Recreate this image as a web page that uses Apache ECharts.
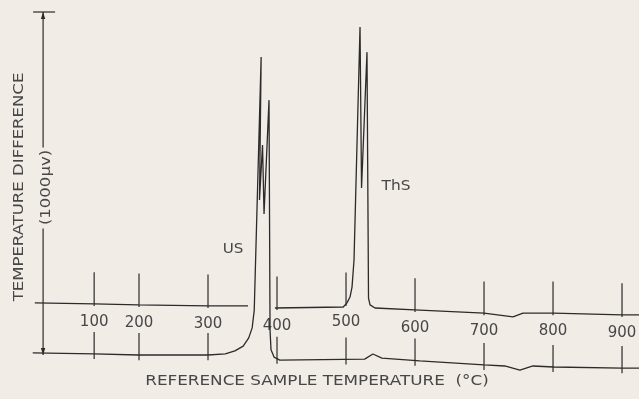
<!DOCTYPE html>
<html>
<head>
<meta charset="utf-8">
<script src="https://cdn.jsdelivr.net/npm/echarts@6/dist/echarts.min.js"></script>
<style>
  html, body { margin: 0; padding: 0; background: #f2ece7; }
  #chart { width: 639px; height: 399px; }
</style>
</head>
<body>
<div id="chart"></div>
<script>
// DTA 曲线：x = 参比样品温度 (°C)，y = 温差 (μV)
var usCurve = [
  [46, 6], [135, 3], [199, 0], [300, 0], [325, 3], [339, 12], [351, 26], [359, 50],
  [364, 79], [367, 131], [377, 869], [374.6, 452], [379, 612], [381.2, 411],
  [388.4, 743], [389.9, 73], [391.3, 15], [395.7, -6], [404, -15], [527, -12],
  [539, 3], [552, -9], [607, -17], [700, -29], [730, -32], [752, -44], [771, -32],
  [801, -35], [900, -38], [925, -38]
];
var thsCurve = [
  [49, 152], [135, 149], [199, 146], [300, 143], [358, 143], [378, '-'], [397, 137],
  [496, 140], [501.4, 152], [505.8, 169], [508.7, 198], [511.6, 277], [520.3, 956],
  [522.5, 487], [530.4, 883], [532.6, 166], [534.8, 146], [542, 137], [607, 131],
  [700, 122], [742, 111], [756.5, 122], [801, 122], [900, 117], [925, 117]
];
// 刻度：原图 100 的位置偏右（非线性）
var tickAt = [135, 200, 300, 400, 500, 600, 700, 800, 900];
var tickLabels = ['100', '200', '300', '400', '500', '600', '700', '800', '900'];
// 纵向标尺 1000 μV
var scaleBar = [[61, 0, 1000]];

var lineColor = '#2b2b2b';
var textColor = '#474747';
var font = 'DejaVu Sans';

// 在曲线上线性插值
function interp(data, t) {
  for (var i = 0; i < data.length - 1; i++) {
    var a = data[i], b = data[i + 1];
    if (typeof a[1] !== 'number' || typeof b[1] !== 'number') continue;
    var lo = Math.min(a[0], b[0]), hi = Math.max(a[0], b[0]);
    if (t >= lo && t <= hi && hi > lo) {
      return a[1] + (b[1] - a[1]) * (t - a[0]) / (b[0] - a[0]);
    }
  }
  return 0;
}

function seg(p1, p2) {
  return {
    type: 'line',
    shape: { x1: p1[0], y1: p1[1], x2: p2[0], y2: p2[1] },
    style: { stroke: lineColor, lineWidth: 1.2 }
  };
}

var chart = echarts.init(document.getElementById('chart'));
chart.setOption({
  backgroundColor: '#f2ece7',
  animation: false,
  grid: { left: 1, right: 0, top: 12, bottom: 9.7 },
  xAxis: { type: 'value', min: 0, max: 924.6, show: false },
  yAxis: { type: 'value', min: -100, max: 1000, show: false },
  graphic: [
    {
      type: 'text', x: 19, y: 187, rotation: Math.PI / 2, scaleX: 1.18,
      style: { text: 'TEMPERATURE DIFFERENCE', fontSize: 14, fontFamily: font, fill: textColor,
               align: 'center', verticalAlign: 'middle' }
    },
    {
      type: 'text', x: 317, y: 381, scaleX: 1.2,
      style: { text: 'REFERENCE SAMPLE TEMPERATURE  (°C)', fontSize: 14, fontFamily: font, fill: textColor,
               align: 'center', verticalAlign: 'middle' }
    },
    {
      type: 'text', x: 233, y: 249, scaleX: 1.08,
      style: { text: 'US', fontSize: 14, fontFamily: font, fill: textColor,
               align: 'center', verticalAlign: 'middle' }
    },
    {
      type: 'text', x: 396, y: 186, scaleX: 1.1,
      style: { text: 'ThS', fontSize: 14, fontFamily: font, fill: textColor,
               align: 'center', verticalAlign: 'middle' }
    }
  ],
  series: [
    {
      name: 'US', type: 'line', data: usCurve, showSymbol: false, clip: false,
      lineStyle: { color: lineColor, width: 1.3 }
    },
    {
      name: 'ThS', type: 'line', data: thsCurve, showSymbol: false, clip: false,
      connectNulls: false,
      lineStyle: { color: lineColor, width: 1.3 }
    },
    {
      // 温度刻度：上下两段竖线 + 中间数字
      type: 'custom', clip: false,
      data: tickAt.map(function (t, i) { return [t, i]; }),
      renderItem: function (params, api) {
        var t = api.value(0);
        var vu = interp(thsCurve, t), vl = interp(usCurve, t);
        return {
          type: 'group',
          children: [
            seg(api.coord([t, vu + 92]), api.coord([t, vu - 6])),
            seg(api.coord([t, vl + 64]), api.coord([t, vl - 15])),
            {
              type: 'text',
              x: api.coord([t, 0])[0], y: api.coord([t, vu - 52])[1],
              style: { text: tickLabels[api.value(1)], fontSize: 15, fontFamily: font, fill: textColor,
                       align: 'center', verticalAlign: 'middle' }
            }
          ]
        };
      }
    },
    {
      // 纵向双箭头标尺
      type: 'custom', clip: false,
      data: scaleBar,
      renderItem: function (params, api) {
        var top = api.coord([api.value(0), api.value(2)]);
        var bot = api.coord([api.value(0), api.value(1)]);
        var x = top[0], midY = (top[1] + bot[1]) / 2 + 4;
        return {
          type: 'group',
          children: [
            seg([x - 10, top[1]], [x + 12, top[1]]),
            seg([x, top[1]], [x, midY - 40]),
            seg([x, midY + 41], [x, bot[1]]),
            { type: 'polygon', shape: { points: [[x, top[1]], [x - 2.2, top[1] + 7], [x + 2.2, top[1] + 7]] },
              style: { fill: lineColor } },
            { type: 'polygon', shape: { points: [[x, bot[1]], [x - 2.2, bot[1] - 7], [x + 2.2, bot[1] - 7]] },
              style: { fill: lineColor } },
            {
              type: 'text', x: x + 3, y: midY, rotation: Math.PI / 2, scaleX: 1.18,
              style: { text: '(1000μv)', fontSize: 14, fontFamily: font, fill: textColor,
                       align: 'center', verticalAlign: 'middle' }
            }
          ]
        };
      }
    }
  ]
});
</script>
</body>
</html>
